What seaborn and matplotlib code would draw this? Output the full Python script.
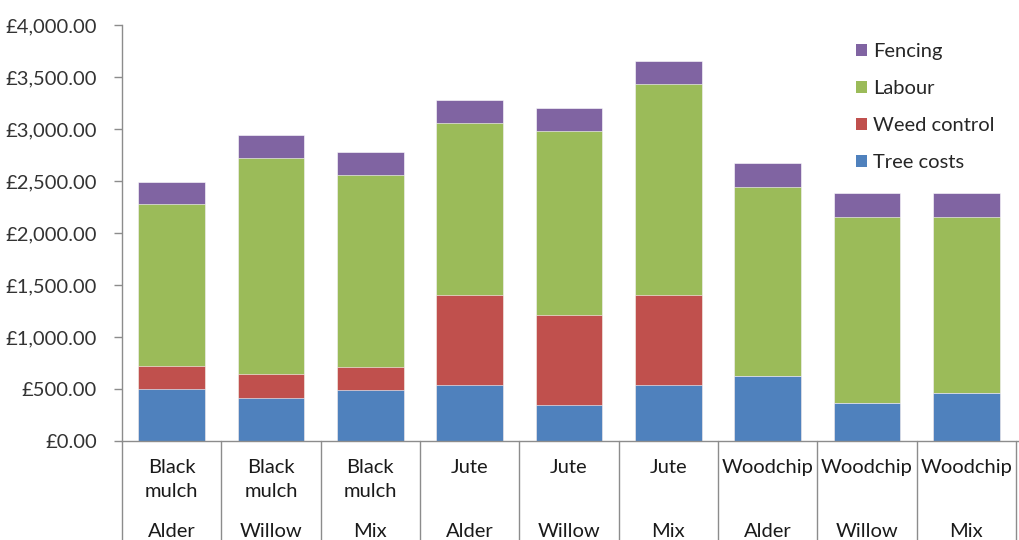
import matplotlib
matplotlib.use("Agg")
import matplotlib.pyplot as plt
import matplotlib.transforms as mtransforms
from matplotlib.patches import Patch
import seaborn as sns
import numpy as np
import pandas as pd

# ---- data ----
mulch = ["Black\nmulch", "Black\nmulch", "Black\nmulch", "Jute", "Jute", "Jute",
         "Woodchip", "Woodchip", "Woodchip"]
species = ["Alder", "Willow", "Mix", "Alder", "Willow", "Mix", "Alder", "Willow", "Mix"]
tree_costs = [500, 415, 495, 535, 350, 535, 625, 365, 460]
weed_control = [225, 225, 215, 865, 865, 865, 0, 0, 0]
labour = [1550, 2080, 1850, 1655, 1770, 2030, 1820, 1790, 1695]
fencing = [220, 220, 220, 225, 220, 225, 225, 225, 225]
series_names = ["Tree costs", "Weed control", "Labour", "Fencing"]
yticks = [0, 500, 1000, 1500, 2000, 2500, 3000, 3500, 4000]

colors = {"Tree costs": "#4F81BD", "Weed control": "#C0504D",
          "Labour": "#9BBB59", "Fencing": "#8064A2"}

sns.set_theme(style="white")
plt.rcParams["font.family"] = ["Lato", "DejaVu Sans"]
FS = 14.5

fig = plt.figure(figsize=(10.19, 5.40), dpi=100)
ax = fig.add_axes([122 / 1019, 99 / 540, 1 - 122 / 1019, (441 - 25) / 540])

keys = [f"c{i}" for i in range(len(species))]
series = [tree_costs, weed_control, labour, fencing]
cum = np.cumsum(np.array(series, dtype=float), axis=0)

# draw from the top-most cumulative down so lower segments overlay
for idx in range(len(series_names) - 1, -1, -1):
    df = pd.DataFrame({"key": keys, "val": cum[idx]})
    sns.barplot(data=df, x="key", y="val", order=keys, color=colors[series_names[idx]],
                saturation=1, width=0.67, edgecolor="white", linewidth=0.4, ax=ax, errorbar=None)

ax.set_xlim(-0.5, len(keys) - 0.5 + 0.03)
ax.set_ylim(0, 4000)
ax.set_yticks(yticks)
ax.set_yticklabels([f"£{v:,.2f}" for v in yticks], fontsize=FS, color="#333333")
ax.set_xticks([])
ax.set_xlabel("")
ax.set_ylabel("")
for s in ["top", "right"]:
    ax.spines[s].set_visible(False)
for s in ["left", "bottom"]:
    ax.spines[s].set_color("#8C8C8C")
    ax.spines[s].set_linewidth(1.0)
ax.tick_params(axis="y", which="both", left=True, length=6, width=1, color="#8C8C8C", pad=12)

# multi-level category axis
trans = mtransforms.blended_transform_factory(ax.transData, fig.transFigure)
for i in range(len(keys) + 1):
    x = i - 0.5
    ax.plot([x, x], [1 - 441 / 540, 0], transform=trans, color="#8C8C8C",
            lw=1.0, clip_on=False)
for i, (m, sp) in enumerate(zip(mulch, species)):
    for j, line in enumerate(m.split("\n")):
        ax.text(i, 1 - (473 + 24 * j) / 540, line, transform=trans, ha="center",
                va="baseline", fontsize=FS, color="#1a1a1a")
    ax.text(i, 1 - 537 / 540, sp, transform=trans, ha="center", va="baseline", fontsize=FS,
            color="#1a1a1a")

handles = [Patch(facecolor=colors[n], edgecolor="none") for n in series_names[::-1]]
fig.legend(handles, series_names[::-1], loc="upper left",
           bbox_to_anchor=(846 / 1019, 1 - 33 / 540), frameon=False, fontsize=FS,
           borderpad=0, handlelength=0.55, handleheight=0.55, handletextpad=0.3,
           labelspacing=1.0)

fig.savefig("out.png", dpi=100)
